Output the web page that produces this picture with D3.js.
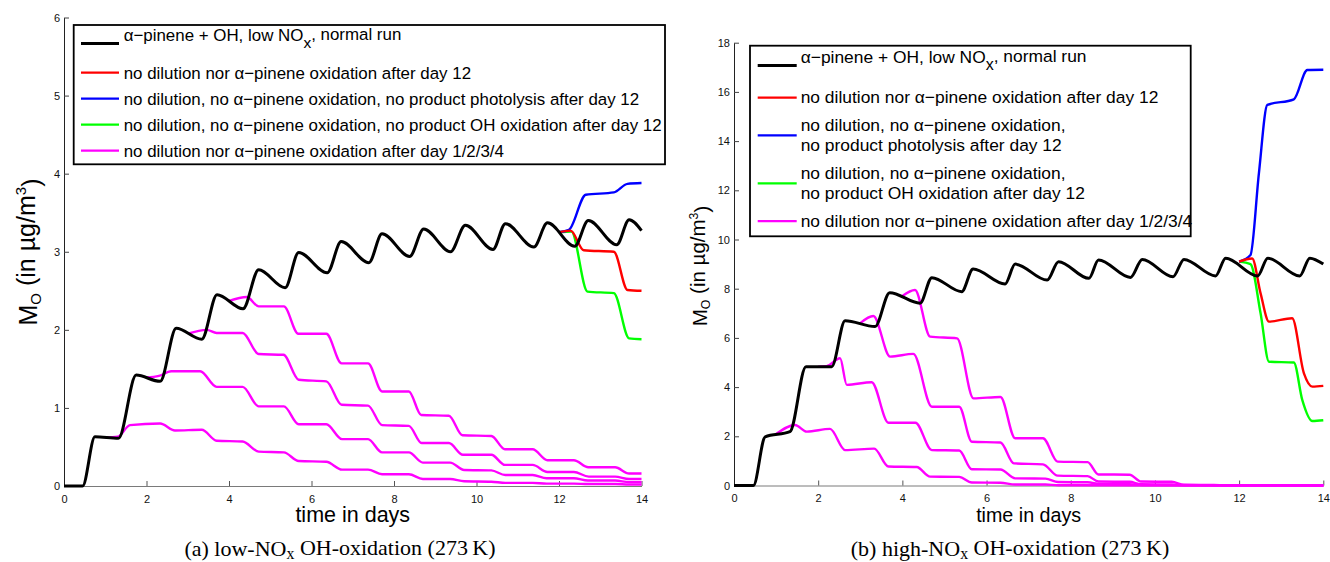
<!DOCTYPE html>
<html>
<head>
<meta charset="utf-8">
<script src="https://cdn.jsdelivr.net/npm/d3@7"></script>
<style>
  body { margin: 0; background: #fff; }
  text { font-family: "Liberation Sans", Arial, sans-serif; }
</style>
</head>
<body>
<div id="chartContainer"></div>
<script>
// values: [time in days, M_O in ug/m3]
var xTicks = [0, 2, 4, 6, 8, 10, 12, 14];
var yTicksLow = [0, 1, 2, 3, 4, 5, 6];
var yTicksHigh = [0, 2, 4, 6, 8, 10, 12, 14, 16, 18];

// (a) low-NOx
var lowNormal = [[0,0],[0.45,0],[0.75,0.63],[1.32,0.61],[1.75,1.42],[2.33,1.34],[2.72,2.02],[3.34,1.88],
  [3.71,2.45],[4.34,2.27],[4.72,2.77],[5.36,2.54],[5.69,2.99],[6.38,2.73],[6.72,3.13],[7.39,2.86],
  [7.71,3.23],[8.38,2.94],[8.72,3.29],[9.37,3.0],[9.73,3.34],[10.4,3.03],[10.7,3.36],[11.39,3.06],
  [11.72,3.37],[12.38,3.07],[12.71,3.40],[13.4,3.09],[13.7,3.41],[14,3.27]];
var lowNoDil12 = [[12.0,3.25],[12.28,3.27],[12.6,3.02],[13.33,3.0],[13.66,2.51],[14,2.5]];
var lowNoPhot12 = [[12.0,3.25],[12.24,3.28],[12.65,3.73],[13.33,3.76],[13.66,3.87],[14,3.88]];
var lowNoOH12 = [[12.0,3.25],[12.3,3.26],[12.69,2.49],[13.33,2.47],[13.7,1.89],[14,1.88]];
var lowStop1 = [[1.0,0.62],[1.3,0.63],[1.6,0.78],[2.33,0.80],[2.69,0.71],[3.34,0.72],[3.7,0.58],[4.33,0.57],
  [4.72,0.44],[5.33,0.43],[5.69,0.32],[6.36,0.31],[6.74,0.21],[7.37,0.21],[7.71,0.15],[8.36,0.15],
  [8.7,0.09],[9.36,0.09],[9.7,0.06],[10.36,0.055],[10.7,0.04],[11.36,0.04],[11.7,0.03],[12.36,0.03],
  [12.7,0.025],[13.36,0.025],[13.7,0.02],[14,0.02]];
var lowStop2 = [[2.0,1.39],[2.3,1.41],[2.6,1.47],[3.3,1.47],[3.7,1.27],[4.33,1.27],[4.72,1.02],[5.33,1.02],
  [5.69,0.79],[6.36,0.79],[6.74,0.60],[7.37,0.60],[7.71,0.43],[8.36,0.43],[8.7,0.30],[9.36,0.30],
  [9.7,0.205],[10.36,0.2],[10.7,0.14],[11.36,0.14],[11.7,0.10],[12.36,0.10],[12.7,0.07],[13.36,0.07],
  [13.7,0.05],[14,0.05]];
var lowStop3 = [[3.0,1.95],[3.46,2.0],[3.7,1.96],[4.33,1.96],[4.72,1.69],[5.32,1.68],[5.69,1.36],[6.36,1.34],
  [6.73,1.04],[7.37,1.03],[7.71,0.78],[8.36,0.77],[8.67,0.55],[9.33,0.55],[9.67,0.40],[10.36,0.40],
  [10.69,0.27],[11.36,0.27],[11.72,0.18],[12.36,0.18],[12.72,0.12],[13.36,0.12],[13.7,0.09],[14,0.09]];
var lowStop4 = [[4.0,2.37],[4.43,2.42],[4.72,2.30],[5.33,2.30],[5.68,1.95],[6.36,1.95],[6.73,1.57],[7.37,1.57],
  [7.71,1.21],[8.36,1.21],[8.66,0.91],[9.33,0.90],[9.66,0.65],[10.36,0.64],[10.69,0.47],[11.36,0.47],
  [11.72,0.33],[12.36,0.33],[12.71,0.24],[13.36,0.24],[13.7,0.16],[14,0.16]];

// (b) high-NOx
var highNormal = [[0,0],[0.46,0],[0.74,1.98],[1.33,2.19],[1.71,4.83],[2.32,4.83],[2.64,6.70],[3.35,6.46],
  [3.70,7.84],[4.42,7.41],[4.70,8.45],[5.41,7.88],[5.68,8.80],[6.44,8.19],[6.68,9.0],[7.44,8.35],
  [7.71,9.10],[8.43,8.42],[8.66,9.17],[9.42,8.46],[9.70,9.19],[10.43,8.49],[10.69,9.19],[11.44,8.52],
  [11.68,9.24],[12.44,8.52],[12.68,9.24],[13.44,8.52],[13.68,9.24],[14,9.0]];
var highNoDil12 = [[12.0,9.1],[12.31,9.23],[12.51,7.81],[12.71,6.66],[13.26,6.80],[13.54,4.56],[13.74,4.02],[14,4.05]];
var highNoPhot12 = [[12.0,9.1],[12.27,9.37],[12.47,12.69],[12.67,15.47],[13.3,15.7],[13.62,16.89],[14,16.9]];
var highNoOH12 = [[12.0,9.1],[12.27,9.0],[12.51,7.0],[12.71,5.03],[13.3,5.0],[13.5,3.48],[13.74,2.62],[14,2.65]];
var highStop1 = [[1.0,2.09],[1.45,2.46],[1.73,2.19],[2.28,2.30],[2.64,1.44],[3.33,1.50],[3.67,0.77],[4.34,0.75],
  [4.66,0.36],[5.35,0.35],[5.65,0.12],[6.33,0.11],[6.68,0.04],[7.4,0.04],[7.7,0.01],[14,0]];
var highStop2 = [[2.0,4.83],[2.2,4.85],[2.52,5.17],[2.68,4.09],[3.27,4.2],[3.67,2.55],[4.31,2.55],[4.70,1.44],
  [5.35,1.42],[5.65,0.66],[6.33,0.65],[6.68,0.29],[7.4,0.28],[7.7,0.14],[8.4,0.13],[8.7,0.06],[9.4,0.05],
  [9.7,0.02],[14,0]];
var highStop3 = [[3.0,6.6],[3.31,6.89],[3.71,5.24],[4.26,5.35],[4.70,3.2],[5.35,3.2],[5.65,1.78],[6.33,1.75],
  [6.65,0.9],[7.34,0.86],[7.69,0.4],[8.4,0.38],[8.66,0.16],[9.4,0.15],[9.67,0.05],[10.4,0.04],[10.7,0.01],[14,0]];
var highStop4 = [[4.0,7.7],[4.30,7.95],[4.66,6.05],[5.3,5.98],[5.69,3.54],[6.33,3.6],[6.68,1.92],[7.34,1.92],
  [7.69,0.97],[8.4,0.95],[8.66,0.45],[9.4,0.44],[9.67,0.16],[10.4,0.15],[10.69,0.03],[11.4,0.02],[11.7,0],[14,0]];

var seriesColors = ["#000000", "#ff0000", "#0000ff", "#00ff00", "#ff00ff"];
var legendLow = [
  ["α−pinene + OH, low NO_x, normal run"],
  ["no dilution nor α−pinene oxidation after day 12"],
  ["no dilution, no α−pinene oxidation, no product photolysis after day 12"],
  ["no dilution, no α−pinene oxidation, no product OH oxidation after day 12"],
  ["no dilution nor α−pinene oxidation after day 1/2/3/4"]
];
var legendHigh = [
  ["α−pinene + OH, low NO_x, normal run"],
  ["no dilution nor α−pinene oxidation after day 12"],
  ["no dilution, no α−pinene oxidation,", "no product photolysis after day 12"],
  ["no dilution, no α−pinene oxidation,", "no product OH oxidation after day 12"],
  ["no dilution nor α−pinene oxidation after day 1/2/3/4"]
];

var svg = d3.select("#chartContainer").append("svg")
  .attr("width", 1330).attr("height", 562)
  .style("background", "#fff");

// text with a "_x" subscript marker
function richText(sel, str, subSize) {
  var parts = str.split("_x");
  sel.append("tspan").text(parts[0]);
  if (parts.length > 1) {
    sel.append("tspan").attr("dy", "0.45em").style("font-size", subSize).text("x");
    sel.append("tspan").attr("dy", "-0.45em").text(parts[1]);
  }
}

function drawPanel(p) {
  var x = d3.scaleLinear().domain([0, 14]).range([p.left, p.right]);
  var y = d3.scaleLinear().domain([0, p.yMax]).range([p.bottom, p.top]);
  var g = svg.append("g");

  // axes (only left and bottom, ticks pointing inward)
  var xa = g.append("g").attr("transform", "translate(0," + p.bottom + ")")
    .call(d3.axisBottom(x).tickValues(xTicks).tickFormat(d3.format("d"))
      .tickSizeInner(-5).tickSizeOuter(0).tickPadding(9));
  var ya = g.append("g").attr("transform", "translate(" + p.left + ",0)")
    .call(d3.axisLeft(y).tickValues(p.yTicks).tickFormat(d3.format("d"))
      .tickSizeInner(-5).tickSizeOuter(0).tickPadding(4));
  xa.select(".domain").attr("stroke", "#7a7a7a");
  xa.selectAll(".tick line").attr("stroke", "#555");
  ya.select(".domain").attr("stroke", "#222");
  ya.selectAll(".tick line").attr("stroke", "#444");
  g.selectAll(".tick text").style("font-size", "11px").style("font-family", "'Liberation Sans', Arial, sans-serif").attr("fill", "#111");

  var line = d3.line().x(function (d) { return x(d[0]); }).y(function (d) { return y(d[1]); })
    .curve(d3.curveMonotoneX);

  p.stops.forEach(function (s) {
    g.append("path").attr("d", line(s)).attr("fill", "none").attr("stroke", seriesColors[4]).attr("stroke-width", 2.4);
  });
  [[p.noOH, 3], [p.noPhot, 2], [p.noDil, 1], [p.normal, 0]].forEach(function (s) {
    g.append("path").attr("d", line(s[0])).attr("fill", "none").attr("stroke", seriesColors[s[1]])
      .attr("stroke-width", s[1] === 0 ? 3 : 2.4).attr("stroke-linejoin", "round");
  });

  // legend box
  var L = p.legend;
  g.append("rect").attr("x", L.x0).attr("y", L.y0).attr("width", L.x1 - L.x0).attr("height", L.y1 - L.y0)
    .attr("fill", "#fff").attr("stroke", "#000").attr("stroke-width", 1.8);
  var base = L.b0;
  p.labels.forEach(function (lines, i) {
    if (i === 1) base = L.b0 + L.firstGap;
    else if (i > 1) base += L.entryGap + L.lineGap * (p.labels[i - 1].length - 1);
    var ly = i === 0 ? base + 2.5 : base + (lines.length - 1) * L.lineGap / 2 - L.lineOff;
    g.append("line").attr("x1", L.lx0).attr("x2", L.lx1).attr("y1", ly).attr("y2", ly)
      .attr("stroke", seriesColors[i]).attr("stroke-width", i === 0 ? 3 : 2.2);
    lines.forEach(function (t, j) {
      var tx = g.append("text").attr("x", L.tx).attr("y", base + j * L.lineGap)
        .style("font-size", L.font + "px").attr("fill", "#000");
      richText(tx, t, "0.92em");
    });
  });

  // axis titles
  var yl = g.append("text").attr("transform", "translate(" + p.yLabX + "," + p.yLabY + ") rotate(-90)")
    .attr("text-anchor", "middle").style("font-size", p.yLabFont + "px");
  yl.append("tspan").text("M");
  yl.append("tspan").attr("dy", "0.25em").style("font-size", "0.6em").text("O");
  yl.append("tspan").attr("dy", "-0.25em").text(" (in µg/m");
  yl.append("tspan").attr("dy", "-0.55em").style("font-size", "0.6em").text("3");
  yl.append("tspan").attr("dy", "0.55em").text(")");

  g.append("text").attr("x", (p.left + p.right) / 2).attr("y", 522).attr("text-anchor", "middle")
    .style("font-size", p.xLabFont + "px").text("time in days");

  var cap = g.append("text").attr("x", p.capX).attr("y", 556).attr("text-anchor", "middle")
    .style("font-family", "'Liberation Serif', 'Times New Roman', serif").style("font-size", "22px");
  cap.append("tspan").text(p.capPre);
  cap.append("tspan").attr("dy", "0.2em").style("font-size", "0.72em").text("x");
  cap.append("tspan").attr("dy", "-0.2em").text(" OH-oxidation (273\u2009K)");
}

drawPanel({
  left: 64, right: 641.5, top: 17.5, bottom: 486, yMax: 6, yTicks: yTicksLow,
  normal: lowNormal, noDil: lowNoDil12, noPhot: lowNoPhot12, noOH: lowNoOH12,
  stops: [lowStop1, lowStop2, lowStop3, lowStop4], labels: legendLow,
  legend: { x0: 73.7, y0: 25, x1: 665, y1: 164.3, lx0: 81, lx1: 119, tx: 123.7, font: 16.9,
            b0: 41, firstGap: 38, entryGap: 26, lineGap: 20.5, lineOff: 6.3 },
  yLabX: 37, yLabY: 252, yLabFont: 25, xLabFont: 21.5, capPre: "(a) low-NO", capX: 340
});
drawPanel({
  left: 734, right: 1323.3, top: 42.7, bottom: 485.5, yMax: 18, yTicks: yTicksHigh,
  normal: highNormal, noDil: highNoDil12, noPhot: highNoPhot12, noOH: highNoOH12,
  stops: [highStop1, highStop2, highStop3, highStop4], labels: legendHigh,
  legend: { x0: 750, y0: 45.7, x1: 1190.7, y1: 236.3, lx0: 757.7, lx1: 796.7, tx: 800.7, font: 17.4,
            b0: 63, firstGap: 40, entryGap: 27.5, lineGap: 20.5, lineOff: 5.3 },
  yLabX: 706.7, yLabY: 266, yLabFont: 20.5, xLabFont: 19.7, capPre: "(b) high-NO", capX: 1010
});
</script>
</body>
</html>
